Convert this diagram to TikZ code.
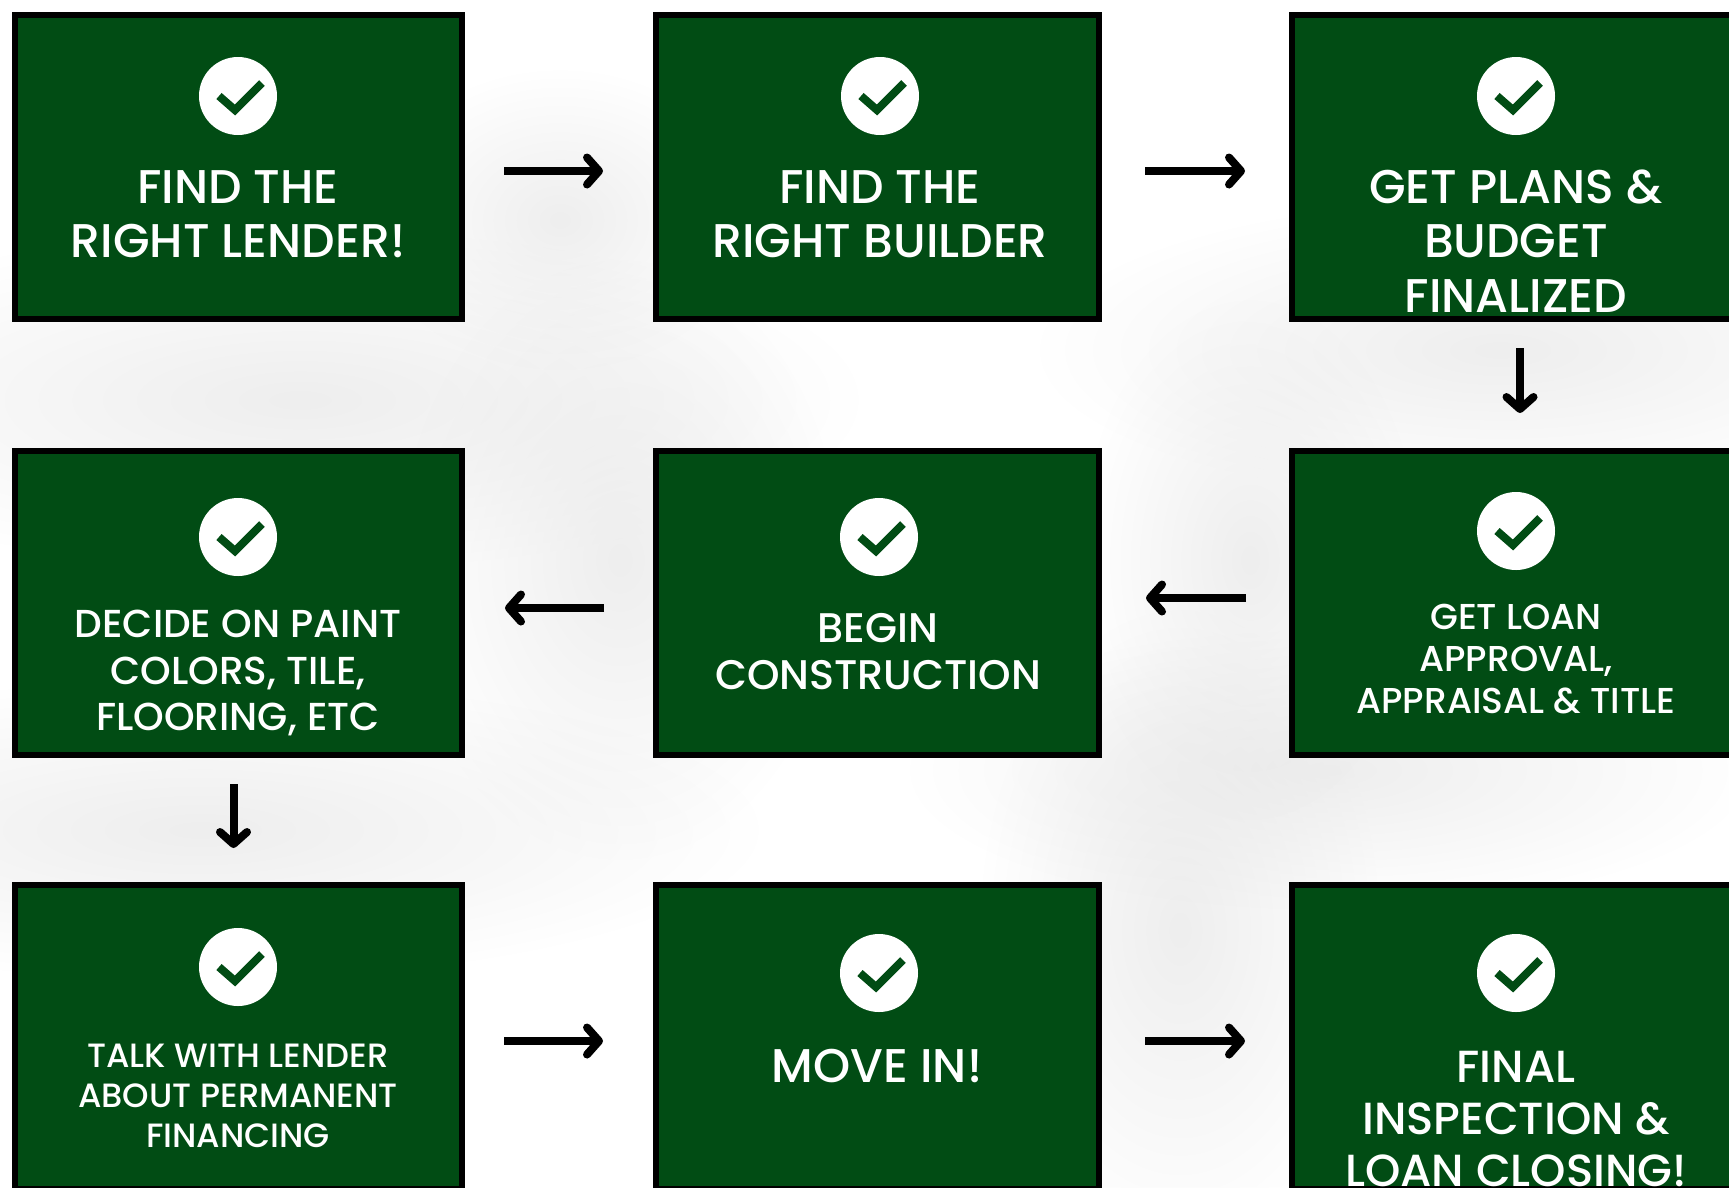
\documentclass[tikz,border=0pt]{standalone}
\usepackage{fontspec}
\setmainfont{Poppins Medium}
\usetikzlibrary{arrows.meta}
\usetikzlibrary{fadings}
\definecolor{boxgreen}{HTML}{014C14}
\tikzfading[name=blotch, inner color=transparent!35, outer color=transparent!100]
\tikzset{big/.style={font=\fontsize{47.3}{54.6}\selectfont}}
\tikzset{mid/.style={font=\fontsize{39}{46.3}\selectfont}}
\tikzset{small/.style={font=\fontsize{33.7}{39.7}\selectfont}}
\tikzset{
stepbox/.style={draw=black, fill=boxgreen, line width=6.5pt, outer sep=0pt, minimum height=304pt},
steptext/.style={text=white, align=center, inner sep=0pt},
tick/.style={circle, fill=white, minimum size=78pt, inner sep=0pt},
check/.style={draw=boxgreen, line width=8pt, miter limit=10},
flow/.style={line width=8pt, -{Straight Barb[length=12pt, width=27pt, round]}},
blotch/.style={black!10, path fading=blotch}
}

\begin{document}
\begin{tikzpicture}[x=1pt, y=-1pt]
    \useasboundingbox (0,0) rectangle (1729,1187);
    \clip (0,0) rectangle (1729,1187);
    \fill[white] (0,0) rectangle (1729,1187);
    % soft background
    \fill[blotch] (300,400) ellipse (560 and 170);
    \fill[blotch] (620,560) ellipse (220 and 300);
    \fill[blotch] (560,220) ellipse (190 and 150);
    \fill[blotch] (1500,350) ellipse (460 and 150);
    \fill[blotch] (1180,930) ellipse (200 and 320);
    \fill[blotch] (1330,770) ellipse (420 and 140);
    \fill[blotch] (200,830) ellipse (560 and 150);
    \fill[blotch] (1250,560) ellipse (170 and 260);
    % boxes
    \node[stepbox, minimum width=447pt] (lender) at (238.5,167) {};
    \node[stepbox, minimum width=443pt] (builder) at (877.5,167) {};
    \node[stepbox, minimum width=448pt] (plans) at (1516,167) {};
    \node[stepbox, minimum width=448pt] (approval) at (1516,603) {};
    \node[stepbox, minimum width=443pt] (construction) at (877.5,603) {};
    \node[stepbox, minimum width=447pt] (paint) at (238.5,603) {};
    \node[stepbox, minimum width=447pt] (financing) at (238.5,1037) {};
    \node[stepbox, minimum width=443pt] (movein) at (877.5,1037) {};
    \node[stepbox, minimum width=448pt] (closing) at (1516,1037) {};
    % ticks
    \node[tick] (lendertick) at (238,96) {};
    \node[tick] (buildertick) at (880,96) {};
    \node[tick] (planstick) at (1516,96) {};
    \node[tick] (approvaltick) at (1516,531) {};
    \node[tick] (constructiontick) at (879,537) {};
    \node[tick] (painttick) at (238,537) {};
    \node[tick] (financingtick) at (238,967) {};
    \node[tick] (moveintick) at (879,973) {};
    \node[tick] (closingtick) at (1516,973) {};
    \foreach \t in {lendertick,buildertick,planstick,approvaltick,constructiontick,painttick,financingtick,moveintick,closingtick}
      \draw[check] ([shift={(-19,0)}]\t.center) -- ++(16,14) -- ++(27,-27);
    % labels
    \node[steptext, big] (lendertext) at (238,214) {FIND THE\\RIGHT LENDER!};
    \node[steptext, big] (buildertext) at (880,214) {FIND THE\\RIGHT BUILDER};
    \node[steptext, big] (planstext) at (1516,241) {GET PLANS \&\\BUDGET\\FINALIZED};
    \node[steptext, font=\fontsize{36}{42}\selectfont] (approvaltext) at (1516,659) {GET LOAN\\APPROVAL,\\APPRAISAL \& TITLE};
    \node[steptext, font=\fontsize{41.4}{47}\selectfont] (constructiontext) at (878,652) {BEGIN\\CONSTRUCTION};
    \node[steptext, mid] (painttext) at (238,673) {DECIDE ON PAINT\\COLORS, TILE,\\FLOORING, ETC};
    \node[steptext, small] (financingtext) at (238,1096) {TALK WITH LENDER\\ABOUT PERMANENT\\FINANCING};
    \node[steptext, big] (moveintext) at (877,1066) {MOVE IN!};
    \node[steptext, font=\fontsize{45}{51.8}\selectfont] (closingtext) at (1516,1119) {FINAL\\INSPECTION \&\\LOAN CLOSING!};
    % arrows
    \draw[flow, shorten <=42pt, shorten >=53pt] ([shift={(0,4)}]lender.east) -- ([shift={(0,4)}]builder.west);
    \draw[flow, shorten <=46pt, shorten >=47pt] ([shift={(0,4)}]builder.east) -- ([shift={(0,4)}]plans.west);
    \draw[flow, shorten <=29pt, shorten >=38pt] ([shift={(4,0)}]plans.south) -- ([shift={(4,0)}]approval.north);
    \draw[flow, shorten <=46pt, shorten >=47pt] ([shift={(0,-5)}]approval.west) -- ([shift={(0,-5)}]construction.east);
    \draw[flow, shorten <=52pt, shorten >=43pt] ([shift={(0,5)}]construction.west) -- ([shift={(0,5)}]paint.east);
    \draw[flow, shorten <=29pt, shorten >=37pt] ([shift={(-5,0)}]paint.south) -- ([shift={(-5,0)}]financing.north);
    \draw[flow, shorten <=42pt, shorten >=53pt] ([shift={(0,4)}]financing.east) -- ([shift={(0,4)}]movein.west);
    \draw[flow, shorten <=46pt, shorten >=47pt] ([shift={(0,4)}]movein.east) -- ([shift={(0,4)}]closing.west);
\end{tikzpicture}
\end{document}
